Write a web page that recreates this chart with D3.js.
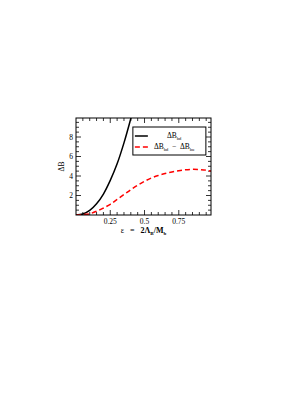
<!DOCTYPE html>
<html>
<head>
<meta charset="utf-8">
<script src="https://cdn.jsdelivr.net/npm/d3@7"></script>
<style>
  body { margin: 0; background: #fff; }
  text { font-family: "Liberation Serif", "DejaVu Serif", serif; white-space: pre; }
</style>
</head>
<body>
<div id="chart-area"></div>
<script>
// data
var epsGrid = [0, 0.05, 0.1, 0.15, 0.2, 0.25, 0.3, 0.35, 0.4, 0.42];
var dBbd = [0, 0.1, 0.47, 1.15, 2.15, 3.55, 5.25, 7.4, 9.9, 11.0];
var epsRed = [0, 0.05, 0.1, 0.15, 0.2, 0.25, 0.3, 0.35, 0.4, 0.45, 0.5, 0.55, 0.6, 0.65, 0.7, 0.75, 0.8, 0.85, 0.9, 0.95, 0.985];
var dBdiff = [0, 0.03, 0.13, 0.38, 0.72, 1.1, 1.6, 2.1, 2.6, 3.05, 3.45, 3.8, 4.05, 4.25, 4.42, 4.55, 4.64, 4.68, 4.66, 4.6, 4.5];
var xTicks = [0.25, 0.5, 0.75];
var yTicks = [2, 4, 6, 8];

var margin = { left: 76, top: 118 };
var width = 135, height = 97;

var svg = d3.select("#chart-area").append("svg")
    .attr("width", 305).attr("height", 395);
var g = svg.append("g")
    .attr("transform", "translate(" + margin.left + "," + margin.top + ")");

var x = d3.scaleLinear().domain([0, 0.985]).range([0, width]);
var y = d3.scaleLinear().domain([0, 9.95]).range([height, 0]);

g.append("clipPath").attr("id", "clip")
  .append("rect").attr("width", width).attr("height", height);

// ticks (inside, all four sides)
var xMinor = d3.range(0.05, 0.985, 0.05);
var yMinor = d3.range(0.5, 9.95, 0.5);
function isMajor(v, list) { return list.some(function(t){ return Math.abs(t - v) < 1e-6; }); }

xMinor.forEach(function(v){
  var len = isMajor(v, xTicks) ? 5 : 3;
  g.append("line").attr("x1", x(v)).attr("x2", x(v)).attr("y1", height).attr("y2", height - len)
    .attr("stroke", "#000").attr("stroke-width", 0.8);
  g.append("line").attr("x1", x(v)).attr("x2", x(v)).attr("y1", 0).attr("y2", len)
    .attr("stroke", "#000").attr("stroke-width", 0.8);
});
yMinor.forEach(function(v){
  var len = isMajor(v, yTicks) ? 5 : 3;
  g.append("line").attr("x1", 0).attr("x2", len).attr("y1", y(v)).attr("y2", y(v))
    .attr("stroke", "#000").attr("stroke-width", 0.8);
  g.append("line").attr("x1", width).attr("x2", width - len).attr("y1", y(v)).attr("y2", y(v))
    .attr("stroke", "#000").attr("stroke-width", 0.8);
});

// tick labels
g.selectAll(".xl").data(xTicks).enter().append("text")
  .attr("x", function(d){ return x(d); }).attr("y", height + 9)
  .attr("text-anchor", "middle").attr("font-size", "7.5px")
  .text(function(d){ return d; });
g.selectAll(".yl").data(yTicks).enter().append("text")
  .attr("x", -3).attr("y", function(d){ return y(d) + 2.5; })
  .attr("text-anchor", "end").attr("font-size", "7.5px")
  .text(function(d){ return d; });

// curves
var line = d3.line().x(function(d){ return x(d[0]); }).y(function(d){ return y(d[1]); })
  .curve(d3.curveCatmullRom);
var plot = g.append("g").attr("clip-path", "url(#clip)");
plot.append("path").datum(epsGrid.map(function(e, i){ return [e, dBbd[i]]; }))
  .attr("d", line).attr("fill", "none").attr("stroke", "#000").attr("stroke-width", 1.5);
plot.append("path").datum(epsRed.map(function(e, i){ return [e, dBdiff[i]]; }))
  .attr("d", line).attr("fill", "none").attr("stroke", "#f00").attr("stroke-width", 1.5)
  .attr("stroke-dasharray", "5,3");

// frame
g.append("rect").attr("width", width).attr("height", height)
  .attr("fill", "none").attr("stroke", "#000").attr("stroke-width", 1);

// axis labels
var xl = g.append("text").attr("x", width / 2).attr("y", height + 18)
  .attr("text-anchor", "middle").attr("font-size", "8px").attr("font-weight", "bold");
xl.append("tspan").attr("font-weight", "normal").text("ε   =   ");
xl.append("tspan").text("2Λ");
xl.append("tspan").attr("font-size", "5px").attr("dy", 2).text("B");
xl.append("tspan").attr("dy", -2).text("/M");
xl.append("tspan").attr("font-size", "5px").attr("dy", 2).text("b");

g.append("text").attr("transform", "translate(-12," + (height / 2) + ") rotate(-90)")
  .attr("text-anchor", "middle").attr("font-size", "7.5px").text("ΔB");

// legend
var lg = g.append("g").attr("transform", "translate(" + (x(0.415)) + "," + 9 + ")");
lg.append("rect").attr("width", 73).attr("height", 28)
  .attr("fill", "#fff").attr("stroke", "#000").attr("stroke-width", 1);
lg.append("line").attr("x1", 2).attr("x2", 15).attr("y1", 9).attr("y2", 9)
  .attr("stroke", "#000").attr("stroke-width", 1.5);
lg.append("line").attr("x1", 2).attr("x2", 17).attr("y1", 20).attr("y2", 20)
  .attr("stroke", "#f00").attr("stroke-width", 1.5).attr("stroke-dasharray", "5,3");

var t1 = lg.append("text").attr("x", 34).attr("y", 11).attr("font-size", "7.5px");
t1.append("tspan").text("ΔB");
t1.append("tspan").attr("font-size", "4.5px").attr("dy", 1.5).text("bd");

var t2 = lg.append("text").attr("x", 21).attr("y", 22).attr("font-size", "7.5px");
t2.append("tspan").text("ΔB");
t2.append("tspan").attr("font-size", "4.5px").attr("dy", 1.5).text("bd");
t2.append("tspan").attr("dy", -1.5).text("  −  ΔB");
t2.append("tspan").attr("font-size", "4.5px").attr("dy", 1.5).text("bu");
</script>
</body>
</html>
